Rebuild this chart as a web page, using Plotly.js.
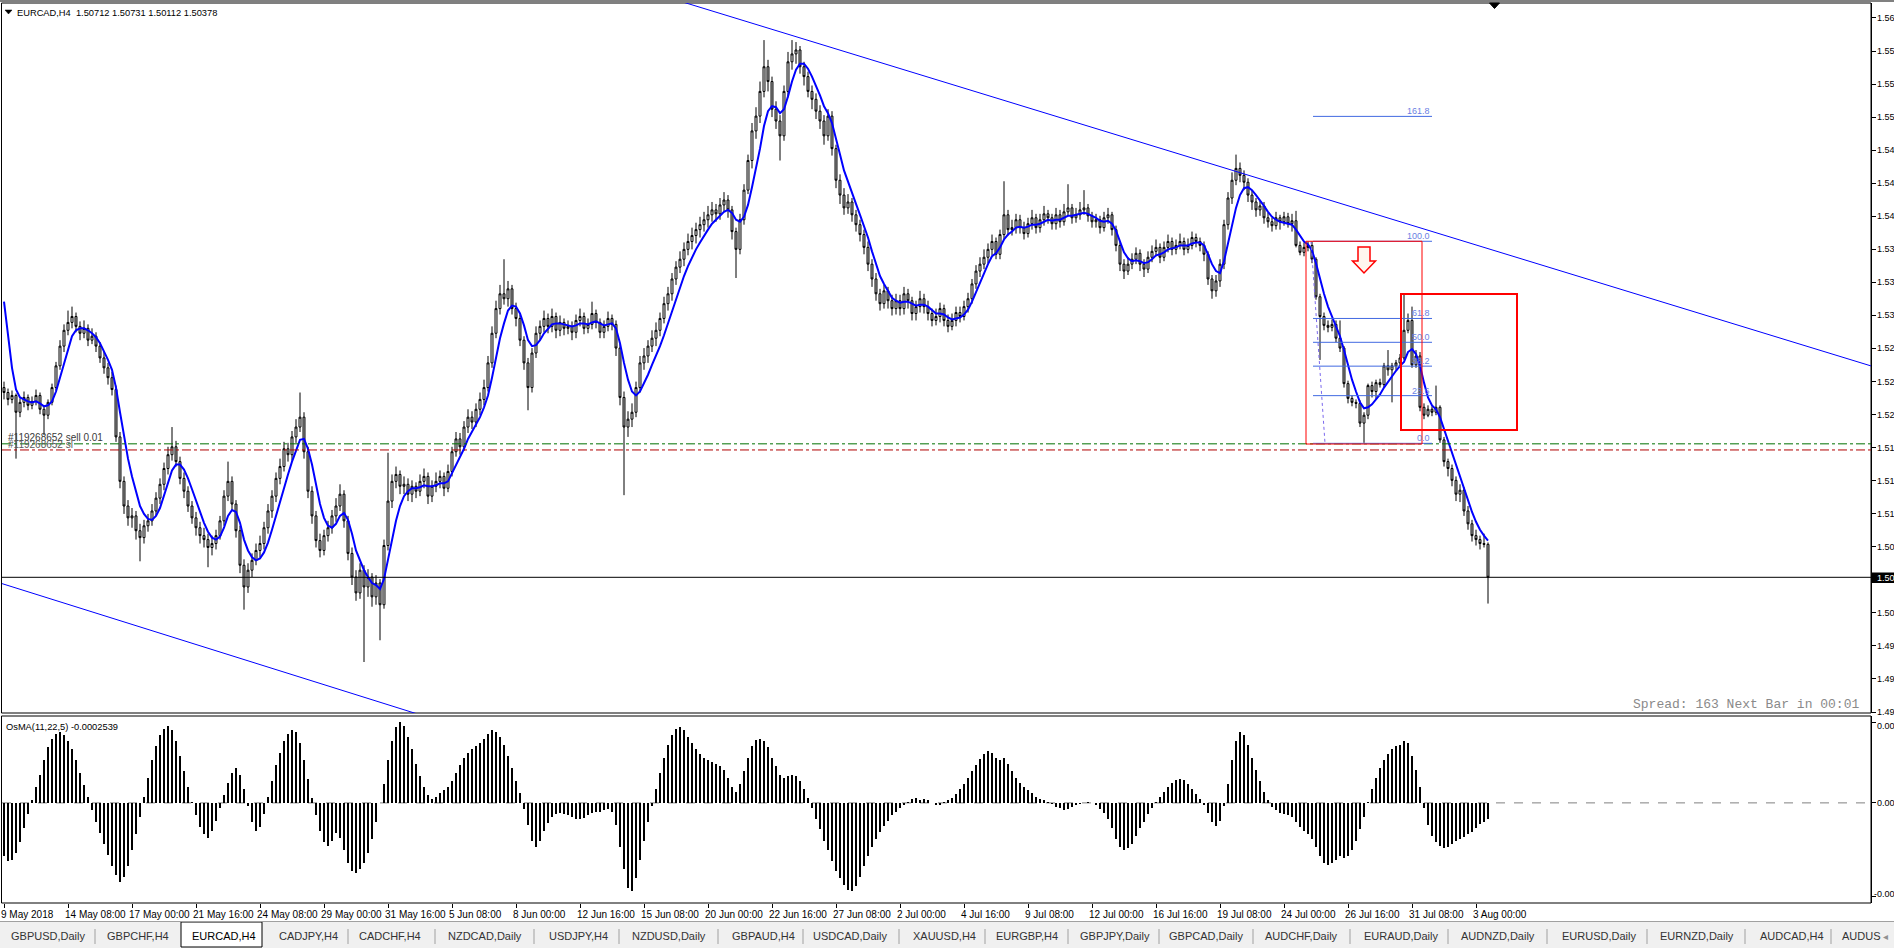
<!DOCTYPE html>
<html><head><meta charset="utf-8">
<script src="https://cdn.plot.ly/plotly-3.0.1.min.js"></script>
<style>html,body{margin:0;padding:0;background:#fff;overflow:hidden}#chart{width:1894px;height:948px}</style>
</head><body><div id="chart"></div>
<script>
// ================= data =================
const symbolTitle = "EURCAD,H4  1.50712 1.50731 1.50112 1.50378";
const osmaTitle = "OsMA(11,22,5) -0.0002539";
const closeP = [
1.5225,1.5218,1.5222,1.5205,1.5215,1.5220,1.5212,1.5216,1.5222,1.5208,
1.5202,1.5215,1.5230,1.5252,1.5272,1.5288,1.5296,1.5302,1.5292,1.5285,
1.5290,1.5278,1.5282,1.5272,1.5260,1.5250,1.5240,1.5228,1.5180,1.5135,
1.5110,1.5098,1.5100,1.5085,1.5078,1.5090,1.5095,1.5105,1.5118,1.5132,
1.5148,1.5162,1.5170,1.5155,1.5138,1.5125,1.5110,1.5098,1.5088,1.5080,
1.5076,1.5068,1.5072,1.5080,1.5095,1.5120,1.5135,1.5112,1.5085,1.5050,
1.5028,1.5045,1.5055,1.5065,1.5072,1.5088,1.5105,1.5120,1.5138,1.5150,
1.5168,1.5162,1.5180,1.5190,1.5200,1.5165,1.5125,1.5100,1.5075,1.5065,
1.5080,1.5088,1.5100,1.5110,1.5122,1.5095,1.5062,1.5038,1.5022,1.5045,
1.5028,1.5038,1.5018,1.5032,1.5010,1.5070,1.5115,1.5135,1.5142,1.5130,
1.5132,1.5122,1.5130,1.5125,1.5135,1.5140,1.5120,1.5130,1.5135,1.5140,
1.5128,1.5145,1.5165,1.5178,1.5170,1.5190,1.5200,1.5195,1.5208,1.5218,
1.5230,1.5255,1.5285,1.5310,1.5325,1.5320,1.5330,1.5310,1.5300,1.5278,
1.5255,1.5230,1.5265,1.5285,1.5292,1.5300,1.5292,1.5302,1.5288,1.5296,
1.5290,1.5292,1.5286,1.5298,1.5302,1.5290,1.5294,1.5305,1.5296,1.5286,
1.5292,1.5300,1.5294,1.5270,1.5220,1.5190,1.5198,1.5205,1.5230,1.5255,
1.5262,1.5272,1.5280,1.5288,1.5300,1.5315,1.5325,1.5340,1.5352,1.5360,
1.5370,1.5378,1.5384,1.5390,1.5395,1.5400,1.5405,1.5410,1.5406,1.5415,
1.5420,1.5410,1.5388,1.5370,1.5400,1.5430,1.5460,1.5490,1.5505,1.5530,
1.5555,1.5540,1.5512,1.5500,1.5485,1.5530,1.5560,1.5568,1.5572,1.5555,
1.5545,1.5530,1.5522,1.5510,1.5500,1.5485,1.5505,1.5472,1.5440,1.5425,
1.5412,1.5418,1.5405,1.5395,1.5385,1.5372,1.5355,1.5340,1.5325,1.5315,
1.5328,1.5318,1.5310,1.5318,1.5310,1.5325,1.5318,1.5305,1.5312,1.5320,
1.5312,1.5305,1.5298,1.5302,1.5310,1.5298,1.5292,1.5298,1.5306,1.5302,
1.5312,1.5320,1.5335,1.5348,1.5355,1.5362,1.5370,1.5378,1.5365,1.5385,
1.5405,1.5390,1.5392,1.5400,1.5392,1.5386,1.5396,1.5402,1.5392,1.5400,
1.5406,1.5402,1.5396,1.5405,1.5398,1.5408,1.5412,1.5402,1.5405,1.5410,
1.5412,1.5404,1.5398,1.5400,1.5392,1.5402,1.5405,1.5390,1.5374,1.5355,
1.5348,1.5355,1.5360,1.5366,1.5355,1.5350,1.5362,1.5368,1.5372,1.5362,
1.5372,1.5378,1.5370,1.5374,1.5378,1.5370,1.5374,1.5382,1.5378,1.5374,
1.5365,1.5340,1.5328,1.5338,1.5355,1.5395,1.5422,1.5440,1.5452,1.5445,
1.5438,1.5425,1.5418,1.5410,1.5414,1.5402,1.5398,1.5394,1.5402,1.5398,
1.5403,1.5396,1.5399,1.5374,1.5367,1.5372,1.5374,1.5360,1.5322,1.5302,
1.5293,1.5291,1.5294,1.5280,1.5270,1.5234,1.5219,1.5215,1.5214,1.5194,
1.5202,1.5232,1.5226,1.5235,1.5233,1.5252,1.5248,1.5252,1.5255,1.5260,
1.5288,1.5298,1.5253,1.5262,1.5210,1.5202,1.5208,1.5205,1.5210,1.5177,
1.5155,1.5148,1.5136,1.5122,1.5126,1.5105,1.5092,1.5080,1.5076,1.5072,
1.50712,1.50378];
const openP = [
1.5230,1.5225,1.5218,1.5222,1.5205,1.5215,1.5220,1.5212,1.5216,1.5222,
1.5208,1.5202,1.5215,1.5230,1.5252,1.5272,1.5288,1.5296,1.5302,1.5292,
1.5285,1.5290,1.5278,1.5282,1.5272,1.5260,1.5250,1.5240,1.5228,1.5180,
1.5135,1.5110,1.5098,1.5100,1.5085,1.5078,1.5090,1.5095,1.5105,1.5118,
1.5132,1.5148,1.5162,1.5170,1.5155,1.5138,1.5125,1.5110,1.5098,1.5088,
1.5080,1.5076,1.5068,1.5072,1.5080,1.5095,1.5120,1.5135,1.5112,1.5085,
1.5050,1.5028,1.5045,1.5055,1.5065,1.5072,1.5088,1.5105,1.5120,1.5138,
1.5150,1.5168,1.5162,1.5180,1.5190,1.5200,1.5165,1.5125,1.5100,1.5075,
1.5065,1.5080,1.5088,1.5100,1.5110,1.5122,1.5095,1.5062,1.5038,1.5022,
1.5045,1.5028,1.5038,1.5018,1.5032,1.5010,1.5070,1.5115,1.5135,1.5142,
1.5130,1.5132,1.5122,1.5130,1.5125,1.5135,1.5140,1.5120,1.5130,1.5135,
1.5140,1.5128,1.5145,1.5165,1.5178,1.5170,1.5190,1.5200,1.5195,1.5208,
1.5218,1.5230,1.5255,1.5285,1.5310,1.5325,1.5320,1.5330,1.5310,1.5300,
1.5278,1.5255,1.5230,1.5265,1.5285,1.5292,1.5300,1.5292,1.5302,1.5288,
1.5296,1.5290,1.5292,1.5286,1.5298,1.5302,1.5290,1.5294,1.5305,1.5296,
1.5286,1.5292,1.5300,1.5294,1.5270,1.5220,1.5190,1.5198,1.5205,1.5230,
1.5255,1.5262,1.5272,1.5280,1.5288,1.5300,1.5315,1.5325,1.5340,1.5352,
1.5360,1.5370,1.5378,1.5384,1.5390,1.5395,1.5400,1.5405,1.5410,1.5406,
1.5415,1.5420,1.5410,1.5388,1.5370,1.5400,1.5430,1.5460,1.5490,1.5505,
1.5530,1.5555,1.5540,1.5512,1.5500,1.5485,1.5530,1.5560,1.5568,1.5572,
1.5555,1.5545,1.5530,1.5522,1.5510,1.5500,1.5485,1.5505,1.5472,1.5440,
1.5425,1.5412,1.5418,1.5405,1.5395,1.5385,1.5372,1.5355,1.5340,1.5325,
1.5315,1.5328,1.5318,1.5310,1.5318,1.5310,1.5325,1.5318,1.5305,1.5312,
1.5320,1.5312,1.5305,1.5298,1.5302,1.5310,1.5298,1.5292,1.5298,1.5306,
1.5302,1.5312,1.5320,1.5335,1.5348,1.5355,1.5362,1.5370,1.5378,1.5365,
1.5385,1.5405,1.5390,1.5392,1.5400,1.5392,1.5386,1.5396,1.5402,1.5392,
1.5400,1.5406,1.5402,1.5396,1.5405,1.5398,1.5408,1.5412,1.5402,1.5405,
1.5410,1.5412,1.5404,1.5398,1.5400,1.5392,1.5402,1.5405,1.5390,1.5374,
1.5355,1.5348,1.5355,1.5360,1.5366,1.5355,1.5350,1.5362,1.5368,1.5372,
1.5362,1.5372,1.5378,1.5370,1.5374,1.5378,1.5370,1.5374,1.5382,1.5378,
1.5374,1.5365,1.5340,1.5328,1.5338,1.5355,1.5395,1.5422,1.5440,1.5452,
1.5445,1.5438,1.5425,1.5418,1.5410,1.5414,1.5402,1.5398,1.5394,1.5402,
1.5398,1.5403,1.5396,1.5399,1.5374,1.5367,1.5372,1.5374,1.5360,1.5322,
1.5302,1.5293,1.5291,1.5294,1.5280,1.5270,1.5234,1.5219,1.5215,1.5214,
1.5194,1.5202,1.5232,1.5226,1.5235,1.5233,1.5252,1.5248,1.5252,1.5255,
1.5260,1.5288,1.5298,1.5253,1.5262,1.5210,1.5202,1.5208,1.5205,1.5210,
1.5177,1.5155,1.5148,1.5136,1.5122,1.5126,1.5105,1.5092,1.5080,1.5076,
1.5072,1.50712];
const highP = [
1.5236,1.5229,1.5227,1.5224,1.5219,1.5226,1.5223,1.5221,1.5228,1.5225,
1.5212,1.5218,1.5234,1.5256,1.5278,1.5294,1.5308,1.5312,1.5306,1.5297,
1.5298,1.5294,1.5290,1.5286,1.5276,1.5266,1.5255,1.5246,1.5232,1.5185,
1.5140,1.5116,1.5108,1.5105,1.5092,1.5096,1.5102,1.5112,1.5124,1.5138,
1.5154,1.5170,1.5190,1.5176,1.5160,1.5144,1.5130,1.5115,1.5104,1.5094,
1.5088,1.5082,1.5080,1.5086,1.5100,1.5126,1.5155,1.5140,1.5116,1.5090,
1.5056,1.5052,1.5062,1.5072,1.5080,1.5094,1.5112,1.5126,1.5144,1.5158,
1.5175,1.5174,1.5186,1.5198,1.5225,1.5205,1.5170,1.5130,1.5105,1.5082,
1.5086,1.5095,1.5106,1.5118,1.5132,1.5126,1.5100,1.5068,1.5045,1.5052,
1.5050,1.5046,1.5042,1.5040,1.5036,1.5076,1.5164,1.5142,1.5150,1.5146,
1.5140,1.5138,1.5136,1.5134,1.5142,1.5148,1.5144,1.5136,1.5144,1.5146,
1.5144,1.5152,1.5170,1.5185,1.5184,1.5196,1.5208,1.5206,1.5214,1.5225,
1.5238,1.5262,1.5292,1.5318,1.5334,1.5360,1.5338,1.5334,1.5316,1.5304,
1.5282,1.5260,1.5270,1.5292,1.5298,1.5308,1.5305,1.5310,1.5306,1.5303,
1.5300,1.5298,1.5297,1.5304,1.5310,1.5306,1.5300,1.5317,1.5309,1.5300,
1.5298,1.5307,1.5304,1.5298,1.5274,1.5226,1.5206,1.5214,1.5236,1.5262,
1.5270,1.5278,1.5288,1.5296,1.5306,1.5322,1.5332,1.5346,1.5358,1.5368,
1.5377,1.5386,1.5392,1.5397,1.5403,1.5408,1.5414,1.5418,1.5416,1.5422,
1.5428,1.5425,1.5414,1.5392,1.5406,1.5436,1.5466,1.5498,1.5514,1.5540,
1.5582,1.5562,1.5545,1.5520,1.5506,1.5536,1.5570,1.5582,1.5580,1.5576,
1.5560,1.5550,1.5536,1.5528,1.5516,1.5506,1.5512,1.5510,1.5476,1.5446,
1.5432,1.5426,1.5422,1.5410,1.5400,1.5390,1.5378,1.5360,1.5346,1.5330,
1.5334,1.5332,1.5324,1.5325,1.5324,1.5332,1.5330,1.5322,1.5318,1.5328,
1.5325,1.5318,1.5310,1.5310,1.5316,1.5314,1.5304,1.5305,1.5312,1.5312,
1.5318,1.5326,1.5340,1.5354,1.5362,1.5370,1.5376,1.5385,1.5382,1.5390,
1.5439,1.5410,1.5400,1.5406,1.5405,1.5398,1.5402,1.5410,1.5406,1.5406,
1.5414,1.5410,1.5406,1.5412,1.5410,1.5416,1.5436,1.5416,1.5412,1.5418,
1.5430,1.5416,1.5408,1.5406,1.5404,1.5408,1.5412,1.5408,1.5394,1.5378,
1.5360,1.5362,1.5366,1.5372,1.5370,1.5360,1.5368,1.5374,1.5380,1.5376,
1.5378,1.5385,1.5382,1.5380,1.5386,1.5382,1.5381,1.5388,1.5386,1.5382,
1.5378,1.5368,1.5344,1.5344,1.5360,1.5400,1.5428,1.5448,1.5466,1.5458,
1.5450,1.5442,1.5430,1.5422,1.5420,1.5418,1.5407,1.5402,1.5408,1.5405,
1.5408,1.5407,1.5406,1.5409,1.5378,1.5377,1.5378,1.5378,1.5362,1.5325,
1.5306,1.5298,1.5299,1.5298,1.5298,1.5272,1.5237,1.5222,1.5218,1.5217,
1.5205,1.5234,1.5236,1.5238,1.5239,1.5255,1.5268,1.5255,1.5258,1.5264,
1.5324,1.5305,1.5312,1.5268,1.5266,1.5214,1.5212,1.5211,1.5232,1.5212,
1.5180,1.5158,1.5152,1.5140,1.5132,1.5129,1.5110,1.5096,1.5086,1.5080,
1.5082,1.50731];
const lowP = [
1.5218,1.5212,1.5214,1.5158,1.5200,1.5210,1.5207,1.5208,1.5212,1.5203,
1.5182,1.5198,1.5212,1.5227,1.5248,1.5266,1.5283,1.5290,1.5286,1.5278,
1.5280,1.5272,1.5274,1.5266,1.5255,1.5244,1.5233,1.5222,1.5175,1.5128,
1.5102,1.5090,1.5088,1.5076,1.5054,1.5072,1.5084,1.5090,1.5100,1.5112,
1.5126,1.5142,1.5156,1.5150,1.5132,1.5118,1.5104,1.5092,1.5080,1.5072,
1.5068,1.5048,1.5060,1.5066,1.5076,1.5090,1.5115,1.5106,1.5078,1.5042,
1.5005,1.5022,1.5038,1.5050,1.5058,1.5066,1.5082,1.5098,1.5114,1.5132,
1.5145,1.5155,1.5156,1.5174,1.5185,1.5158,1.5118,1.5092,1.5068,1.5058,
1.5060,1.5074,1.5082,1.5094,1.5105,1.5088,1.5055,1.5030,1.5014,1.5016,
1.4952,1.5018,1.5008,1.5010,1.4974,1.5006,1.5065,1.5108,1.5128,1.5122,
1.5122,1.5115,1.5114,1.5118,1.5120,1.5128,1.5112,1.5114,1.5124,1.5128,
1.5120,1.5124,1.5140,1.5160,1.5162,1.5166,1.5184,1.5188,1.5190,1.5202,
1.5212,1.5226,1.5250,1.5280,1.5304,1.5314,1.5312,1.5304,1.5292,1.5272,
1.5248,1.5207,1.5225,1.5260,1.5278,1.5286,1.5285,1.5286,1.5280,1.5282,
1.5283,1.5284,1.5278,1.5280,1.5292,1.5284,1.5285,1.5289,1.5290,1.5280,
1.5280,1.5287,1.5288,1.5262,1.5212,1.5121,1.5180,1.5190,1.5200,1.5225,
1.5248,1.5255,1.5266,1.5272,1.5282,1.5295,1.5308,1.5318,1.5334,1.5346,
1.5353,1.5364,1.5370,1.5376,1.5382,1.5388,1.5392,1.5398,1.5398,1.5400,
1.5408,1.5402,1.5380,1.5341,1.5365,1.5395,1.5426,1.5452,1.5482,1.5498,
1.5524,1.5530,1.5504,1.5492,1.5460,1.5480,1.5524,1.5552,1.5558,1.5548,
1.5536,1.5524,1.5512,1.5502,1.5492,1.5476,1.5480,1.5465,1.5432,1.5416,
1.5405,1.5406,1.5398,1.5388,1.5378,1.5365,1.5348,1.5332,1.5318,1.5308,
1.5310,1.5310,1.5303,1.5304,1.5303,1.5304,1.5310,1.5298,1.5298,1.5306,
1.5305,1.5298,1.5292,1.5293,1.5296,1.5292,1.5286,1.5288,1.5292,1.5296,
1.5298,1.5306,1.5315,1.5330,1.5342,1.5350,1.5356,1.5364,1.5360,1.5360,
1.5380,1.5384,1.5384,1.5386,1.5386,1.5380,1.5382,1.5390,1.5386,1.5387,
1.5394,1.5396,1.5390,1.5390,1.5392,1.5394,1.5404,1.5396,1.5397,1.5400,
1.5405,1.5398,1.5392,1.5392,1.5386,1.5388,1.5396,1.5384,1.5368,1.5348,
1.5340,1.5344,1.5350,1.5355,1.5348,1.5342,1.5346,1.5357,1.5363,1.5356,
1.5358,1.5367,1.5364,1.5365,1.5370,1.5364,1.5366,1.5370,1.5372,1.5368,
1.5358,1.5334,1.5320,1.5322,1.5332,1.5350,1.5390,1.5416,1.5435,1.5438,
1.5430,1.5418,1.5410,1.5403,1.5404,1.5396,1.5392,1.5388,1.5390,1.5390,
1.5394,1.5392,1.5388,1.5372,1.5364,1.5363,1.5368,1.5356,1.5319,1.5258,
1.5288,1.5286,1.5287,1.5276,1.5266,1.5230,1.5214,1.5211,1.5209,1.5190,
1.5174,1.5198,1.5220,1.5218,1.5230,1.5230,1.5242,1.5215,1.5248,1.5251,
1.5258,1.5285,1.5250,1.5250,1.5206,1.5198,1.5200,1.5201,1.5202,1.5174,
1.5150,1.5140,1.5130,1.5115,1.5114,1.5100,1.5086,1.5074,1.5070,1.5066,
1.5068,1.50112];
const maLine = [
1.5317,1.5285,1.5250,1.5228,1.5220,1.5218,1.5216,1.5215,1.5216,1.5214,
1.5211,1.5212,1.5216,1.5226,1.5240,1.5256,1.5270,1.5282,1.5288,1.5290,
1.5290,1.5288,1.5285,1.5281,1.5275,1.5267,1.5258,1.5248,1.5230,1.5205,
1.5180,1.5158,1.5140,1.5124,1.5110,1.5102,1.5097,1.5096,1.5100,1.5108,
1.5120,1.5134,1.5146,1.5152,1.5152,1.5147,1.5138,1.5127,1.5115,1.5103,
1.5093,1.5084,1.5078,1.5076,1.5079,1.5088,1.5100,1.5106,1.5104,1.5093,
1.5076,1.5065,1.5058,1.5055,1.5057,1.5063,1.5073,1.5086,1.5100,1.5115,
1.5130,1.5142,1.5155,1.5166,1.5177,1.5178,1.5168,1.5152,1.5132,1.5112,
1.5098,1.5090,1.5088,1.5092,1.5100,1.5103,1.5096,1.5082,1.5065,1.5055,
1.5045,1.5038,1.5032,1.5030,1.5026,1.5036,1.5055,1.5075,1.5095,1.5110,
1.5120,1.5125,1.5128,1.5128,1.5129,1.5131,1.5130,1.5130,1.5131,1.5133,
1.5133,1.5135,1.5143,1.5152,1.5159,1.5168,1.5178,1.5185,1.5192,1.5200,
1.5210,1.5222,1.5240,1.5260,1.5280,1.5295,1.5308,1.5313,1.5312,1.5305,
1.5293,1.5278,1.5272,1.5273,1.5278,1.5285,1.5290,1.5294,1.5295,1.5295,
1.5294,1.5293,1.5292,1.5293,1.5295,1.5295,1.5294,1.5296,1.5297,1.5295,
1.5293,1.5294,1.5295,1.5290,1.5275,1.5255,1.5238,1.5226,1.5222,1.5226,
1.5234,1.5243,1.5253,1.5262,1.5272,1.5283,1.5295,1.5307,1.5320,1.5332,
1.5343,1.5353,1.5362,1.5370,1.5377,1.5384,1.5390,1.5396,1.5400,1.5404,
1.5408,1.5410,1.5407,1.5400,1.5398,1.5403,1.5415,1.5433,1.5452,1.5472,
1.5495,1.5510,1.5515,1.5514,1.5508,1.5512,1.5525,1.5540,1.5552,1.5558,
1.5558,1.5553,1.5545,1.5536,1.5526,1.5515,1.5508,1.5498,1.5483,1.5466,
1.5450,1.5438,1.5427,1.5416,1.5405,1.5394,1.5382,1.5368,1.5355,1.5343,
1.5335,1.5328,1.5321,1.5318,1.5316,1.5317,1.5317,1.5315,1.5313,1.5314,
1.5314,1.5312,1.5308,1.5305,1.5305,1.5304,1.5301,1.5299,1.5300,1.5301,
1.5304,1.5309,1.5317,1.5327,1.5337,1.5346,1.5355,1.5363,1.5366,1.5372,
1.5380,1.5385,1.5388,1.5392,1.5393,1.5392,1.5393,1.5395,1.5395,1.5396,
1.5398,1.5400,1.5399,1.5400,1.5400,1.5402,1.5404,1.5404,1.5405,1.5406,
1.5407,1.5406,1.5404,1.5402,1.5399,1.5398,1.5399,1.5396,1.5389,1.5378,
1.5367,1.5361,1.5358,1.5359,1.5358,1.5356,1.5357,1.5360,1.5364,1.5365,
1.5367,1.5370,1.5371,1.5372,1.5374,1.5374,1.5374,1.5376,1.5377,1.5377,
1.5374,1.5365,1.5355,1.5348,1.5346,1.5358,1.5375,1.5395,1.5412,1.5425,
1.5432,1.5433,1.5430,1.5425,1.5420,1.5414,1.5408,1.5403,1.5400,1.5398,
1.5397,1.5396,1.5395,1.5390,1.5384,1.5378,1.5375,1.5369,1.5356,1.5340,
1.5325,1.5312,1.5302,1.5292,1.5282,1.5268,1.5252,1.5238,1.5226,1.5215,
1.5209,1.5210,1.5213,1.5218,1.5223,1.5230,1.5236,1.5242,1.5247,1.5252,
1.5256,1.5266,1.5269,1.5264,1.5252,1.5235,1.5220,1.5212,1.5208,1.5200,
1.5188,1.5175,1.5163,1.5152,1.5140,1.5128,1.5116,1.5104,1.5094,1.5086,
1.5080,1.5075];
const osmaVal = [
-0.00085,-0.00092,-0.00090,-0.00080,-0.00062,-0.00040,-0.00018,
0.00005,0.00025,0.00045,0.00068,0.00088,0.00102,0.00110,0.00112,0.00108,0.00098,0.00085,0.00068,0.00048,0.00028,0.00010,
-0.00012,-0.00030,-0.00048,-0.00065,-0.00082,-0.00100,-0.00115,-0.00125,-0.00118,-0.00100,-0.00075,
-0.00050,-0.00022,0.00010,0.00040,0.00068,0.00090,0.00108,0.00118,0.00122,0.00115,0.00098,0.00075,0.00050,0.00025,
0.00002,-0.00020,-0.00038,-0.00050,-0.00055,-0.00045,-0.00028,
-0.00008,0.00012,0.00032,0.00048,0.00055,0.00045,0.00022,-0.00005,
-0.00030,-0.00045,-0.00038,-0.00018,
0.00010,0.00035,0.00060,0.00080,0.00098,0.00110,0.00116,0.00112,0.00095,0.00068,0.00038,0.00008,
-0.00020,-0.00045,-0.00062,-0.00068,-0.00060,-0.00048,-0.00055,-0.00075,-0.00095,-0.00108,-0.00112,-0.00105,
-0.00095,-0.00080,-0.00058,-0.00030,0.00000,0.00030,
0.00068,0.00098,0.00120,0.00128,0.00122,0.00105,0.00085,0.00062,
0.00042,0.00025,0.00012,0.00006,0.00010,0.00016,0.00020,0.00025,0.00035,0.00048,
0.00060,0.00072,0.00080,0.00086,0.00090,0.00095,0.00102,0.00110,0.00115,0.00112,0.00105,0.00092,0.00075,0.00055,0.00035,0.00015,
-0.00010,-0.00035,-0.00060,-0.00070,-0.00060,-0.00045,-0.00032,-0.00022,-0.00018,-0.00016,-0.00018,-0.00020,
-0.00022,-0.00025,-0.00026,-0.00024,-0.00020,-0.00016,-0.00015,-0.00014,-0.00012,-0.00010,-0.00014,-0.00035,
-0.00070,-0.00105,-0.00135,-0.00140,-0.00120,-0.00090,-0.00060,-0.00030,-0.00005,
0.00022,0.00048,0.00072,0.00092,0.00108,0.00118,0.00120,0.00115,0.00105,0.00095,0.00085,0.00078,0.00072,0.00068,0.00065,0.00062,0.00058,0.00052,
0.00040,0.00025,0.00018,0.00030,0.00050,0.00072,0.00090,0.00100,0.00102,0.00098,0.00088,0.00072,0.00058,0.00045,0.00040,
0.00042,0.00045,0.00042,0.00035,0.00022,0.00008,-0.00008,-0.00025,-0.00042,-0.00060,-0.00075,-0.00092,-0.00108,-0.00120,-0.00130,
-0.00138,-0.00140,-0.00132,-0.00118,-0.00100,-0.00085,-0.00070,-0.00058,-0.00046,-0.00036,-0.00028,-0.00020,-0.00014,-0.00008,
-0.00004,0.00002,0.00006,0.00008,0.00005,0.00006,0.00004,0.00000,-0.00004,-0.00003,0.00002,0.00004,0.00008,0.00014,0.00022,0.00030,0.00040,
0.00050,0.00060,0.00070,0.00078,0.00082,0.00080,0.00072,0.00068,0.00072,0.00062,0.00050,0.00040,0.00032,0.00025,0.00020,
0.00016,0.00010,0.00006,0.00004,0.00002,-0.00002,-0.00006,-0.00008,-0.00012,-0.00010,-0.00006,-0.00003,-0.00002,0.00000,0.00002,
0.00000,-0.00004,-0.00010,-0.00016,-0.00025,-0.00040,-0.00058,-0.00070,-0.00075,-0.00072,-0.00065,-0.00052,-0.00040,-0.00030,-0.00018,
-0.00008,0.00002,0.00010,0.00018,0.00026,0.00032,0.00036,0.00038,0.00036,0.00030,0.00022,0.00014,0.00006,-0.00004,-0.00016,
-0.00030,-0.00036,-0.00028,-0.00005,0.00030,0.00068,0.00098,0.00112,0.00108,0.00092,0.00072,0.00052,
0.00035,0.00018,0.00004,-0.00006,-0.00012,-0.00016,-0.00018,-0.00020,-0.00022,-0.00030,-0.00038,-0.00045,
-0.00050,-0.00058,-0.00070,-0.00085,-0.00095,-0.00098,-0.00095,-0.00090,-0.00085,-0.00088,-0.00085,-0.00075,-0.00060,-0.00042,-0.00022,
0.00002,0.00022,0.00040,0.00055,0.00068,0.00078,0.00085,0.00090,0.00092,0.00098,0.00095,0.00075,0.00052,0.00025,
-0.00008,-0.00035,-0.00052,-0.00062,-0.00068,-0.00072,-0.00070,-0.00066,-0.00060,-0.00058,-0.00054,-0.00050,-0.00046,-0.00040,-0.00034,-0.00030,-0.0002539];
const bidPrice = 1.50378;
const xLabelText = ["9 May 2018","14 May 08:00","17 May 00:00","21 May 16:00","24 May 08:00","29 May 00:00","31 May 16:00","5 Jun 08:00","8 Jun 00:00","12 Jun 16:00","15 Jun 08:00","20 Jun 00:00","22 Jun 16:00","27 Jun 08:00","2 Jul 00:00","4 Jul 16:00","9 Jul 08:00","12 Jul 00:00","16 Jul 16:00","19 Jul 08:00","24 Jul 00:00","26 Jul 16:00","31 Jul 08:00","3 Aug 00:00"];
const xLabelBar = [0,16,32,48,64,80,96,112,128,144,160,176,192,208,224,240,256,272,288,304,320,336,352,368];
const priceTickVals = [1.49013,1.49348,1.49683,1.50017,1.50352,1.50687,1.51022,1.51357,1.51691,1.52026,1.52361,1.52696,1.53031,1.53365,1.53700,1.54035,1.54370,1.54705,1.55039,1.55374,1.55709,1.56044];
const priceTickText = ["1.49","1.49","1.49","1.50","1.50","1.50","1.51","1.51","1.51","1.52","1.52","1.52","1.53","1.53","1.53","1.54","1.54","1.54","1.55","1.55","1.55","1.56"];
const osmaTickVals = [0.00127, 0, -0.00149];
const osmaTickText = ["0.00","0.00","-0.00"];
const fibLevels = [0, 23.6, 38.2, 50.0, 61.8, 100.0, 161.8];
const fibLabels = ["0.0","23.6","38.2","50.0","61.8","100.0","161.8"];
const fibLow = 1.51735, fibHigh = 1.53782;
const sellPrice = 1.5173, slPrice = 1.51668;
const orderTexts = ["#119268652 sell 0.01", "#119268652 sl"];
const spreadText = "Spread: 163 Next Bar in 00:01";
const tabNames = ["GBPUSD,Daily","GBPCHF,H4","EURCAD,H4","CADJPY,H4","CADCHF,H4","NZDCAD,Daily","USDJPY,H4","NZDUSD,Daily","GBPAUD,H4","USDCAD,Daily","XAUUSD,H4","EURGBP,H4","GBPJPY,Daily","GBPCAD,Daily","AUDCHF,Daily","EURAUD,Daily","AUDNZD,Daily","EURUSD,Daily","EURNZD,Daily","AUDCAD,H4","AUDUS"];
const activeTab = "EURCAD,H4";

// ================= layout geometry =================
const W = 1894, H = 948;
const plotL = 2, plotR = 1871, mainTop = 3, mainBot = 713, oscTop = 716, oscBot = 903;
const barPx = 4;
const pxPerPrice = 1/0.0001013, bidY = 577.3;
const tabX = [10,106,191,278,358,447,548,631,731,812,912,995,1079,1168,1264,1363,1460,1561,1659,1759,1841];
const tabSep = [95,348,435,534,619,718,803,899,985,1068,1159,1253,1350,1448,1547,1647,1745,1831];
const activeBox = [181,262];
const trend1 = [[165,1.56264],[470,1.52479]];
const trend2 = [[-2,1.50333],[110,1.48909]];
const fibX = [327.25, 357];
const fibDiag = [[326.75,1.53782],[330.25,1.51735]];
const rectThin = [325.5, 354.5, 1.51728, 1.53782];
const rectThick = [349.25, 378.25, 1.51870, 1.53248];

const px = x => x / W;
const py = y => 1 - y / H;
const priceAt = y => bidPrice + (bidY - y) / pxPerPrice;
const yOfPrice = p => bidY - (p - bidPrice) * pxPerPrice;
const xr = [-0.5, -0.5 + (plotR - plotL) / barPx];
const font = 'Liberation Sans, Arial, sans-serif';
const barIdx = closeP.map((_, i) => i);
const oscRange = [-0.00159, 0.00138];
const yOfOsc = v => oscBot - (v - oscRange[0]) / (oscRange[1] - oscRange[0]) * (oscBot - oscTop);

const traces = [
  {type:'candlestick', x:barIdx, open:openP, high:highP, low:lowP, close:closeP, xaxis:'x', yaxis:'y',
   increasing:{line:{color:'#000',width:1}, fillcolor:'#ffffff'},
   decreasing:{line:{color:'#000',width:1}, fillcolor:'#c0c0c0'},
   whiskerwidth:0, hoverinfo:'skip'},
  {type:'scatter', mode:'lines', x:barIdx, y:maLine, xaxis:'x', yaxis:'y', line:{color:'#0000ff', width:2}, hoverinfo:'skip'},
  {type:'bar', x:osmaVal.map((_, i) => i), y:osmaVal, xaxis:'x2', yaxis:'y2', width:0.5,
   marker:{color:'#000', line:{width:0}}, hoverinfo:'skip'}
];

const shapes = [];
const ann = [];
function pline(x0,y0,x1,y1,color,width,dash){shapes.push({type:'line',xref:'paper',yref:'paper',x0:px(x0),y0:py(y0),x1:px(x1),y1:py(y1),line:{color:color,width:width||1,dash:dash||'solid'}});}
function prect(x0,y0,x1,y1,lc,fill,lw){shapes.push({type:'rect',xref:'paper',yref:'paper',x0:px(x0),y0:py(y0),x1:px(x1),y1:py(y1),line:{color:lc,width:lw===undefined?1:lw},fillcolor:fill||'rgba(0,0,0,0)',layer:'below'});}
function ppath(pts,lc,fill,lw){let d=pts.map((p,i)=>(i?'L':'M')+px(p[0])+','+py(p[1])).join(' ')+' Z';shapes.push({type:'path',xref:'paper',yref:'paper',path:d,line:{color:lc,width:lw||1},fillcolor:fill,layer:'above'});}
function ptext(x,y,t,opts){ann.push(Object.assign({xref:'paper',yref:'paper',x:px(x),y:py(y),text:t,showarrow:false,xanchor:'left',yanchor:'middle',borderpad:0,font:{family:font,size:11,color:'#000'}},opts||{}));}

// window frame
pline(0,1,W,1,'#808080',2);
prect(plotL-0.5, mainTop, plotR, mainBot, '#000');
prect(plotL-0.5, oscTop, plotR, oscBot, '#000');

function dline(p0,p1,color,width,dash){shapes.push({type:'line',xref:'x',yref:'y',x0:p0[0],y0:p0[1],x1:p1[0],y1:p1[1],line:{color:color,width:width||1,dash:dash||'solid'},layer:'above'});}
dline(trend1[0],trend1[1],'#0000ff',1);
dline(trend2[0],trend2[1],'#0000ff',1);
dline([xr[0],sellPrice],[xr[1],sellPrice],'#007000',1,'dashdot');
dline([xr[0],slPrice],[xr[1],slPrice],'#b00000',1,'dashdot');
dline([xr[0],bidPrice],[xr[1],bidPrice],'#000',1);
fibLevels.forEach((lv,i)=>{
  const p = fibLow + (fibHigh-fibLow)*lv/100;
  dline([fibX[0],p],[fibX[1],p],'#4169e1',1);
  ann.push({xref:'x',yref:'y',x:fibX[1],y:p,text:fibLabels[i],showarrow:false,xanchor:'right',yanchor:'bottom',yshift:-2,font:{family:font,size:9,color:'#6b7fe3'}});
});
dline(fibDiag[0],fibDiag[1],'#7b68ee',1,'dot');
shapes.push({type:'rect',xref:'x',yref:'y',x0:rectThin[0],x1:rectThin[1],y0:rectThin[2],y1:rectThin[3],line:{color:'#ff0000',width:1},fillcolor:'rgba(0,0,0,0)',layer:'above'});
shapes.push({type:'rect',xref:'x',yref:'y',x0:rectThick[0],x1:rectThick[1],y0:rectThick[2],y1:rectThick[3],line:{color:'#ff0000',width:2},fillcolor:'rgba(0,0,0,0)',layer:'above'});
ppath([[1358,247],[1370,247],[1370,261],[1375.5,261],[1364,273],[1352.5,261],[1358,261]],'#ff0000','#fff6ee',1.5);
ppath([[1489.5,3],[1499.5,3],[1494.5,8.5]],'#000','#000',1);
shapes.push({type:'line',xref:'paper',yref:'y2',x0:px(plotL),x1:px(plotR),y0:0,y1:0,line:{color:'#808080',width:1,dash:'dash'},layer:'below'});

// texts
ppath([[5,10],[12,10],[8.5,14]],'#000','#000',0.5);
ptext(16,12.5,symbolTitle,{font:{family:font,size:9.3,color:'#000'}});
ptext(5,727,osmaTitle,{font:{family:font,size:9.3,color:'#000'}});
ptext(7,437,orderTexts[0],{font:{family:font,size:10,color:'#3a3a3a'}});
ptext(7,444,orderTexts[1],{font:{family:font,size:10,color:'#5a5a5a'}});
ptext(1860,704,spreadText,{xanchor:'right',font:{family:'Liberation Mono, Courier New, monospace',size:13,color:'#8a8a8a'}});

// price scale labels
priceTickVals.forEach((v,i)=>ptext(1875.5, yOfPrice(v), priceTickText[i], {font:{family:font,size:9,color:'#000'}}));
osmaTickVals.forEach((v,i)=>ptext(osmaTickText[i][0]==='-'?1872.5:1875.5, yOfOsc(v)+(i===0?3:(i===2?-3:0)), osmaTickText[i], {font:{family:font,size:9,color:'#000'}}));
// bid label box
prect(1872,572.5,W+2,583,'#000','#000',0);
shapes[shapes.length-1].layer='above';
ptext(1875.5,577.8,'1.50',{font:{family:font,size:9,color:'#fff'}});

// time labels
xLabelText.forEach((t,i)=>{
  ann.push({xref:'x2',yref:'paper',x:xLabelBar[i],y:py(914),text:t,showarrow:false,xanchor:'left',yanchor:'middle',xshift:-4,borderpad:0,font:{family:font,size:10,color:'#000'}});
});

// tab bar
prect(0,921,W,948,'rgba(0,0,0,0)','#f0f0f0',0);
pline(0,921.5,W,921.5,'#a0a0a0',1);
prect(activeBox[0],922,activeBox[1],947,'#000','#ffffff',1);
tabSep.forEach(x=>pline(x,929,x,944,'#a0a0a0',1));
tabNames.forEach((t,i)=>ptext(tabX[i],936,t,{font:{family:font,size:11,color:t===activeTab?'#000':'#333'}}));
ptext(1882,936,'◂',{font:{family:font,size:10,color:'#909090'}});

const layout = {
  width:W, height:H, margin:{l:0,r:0,t:0,b:0}, paper_bgcolor:'#fff', plot_bgcolor:'#fff',
  showlegend:false, hovermode:false, font:{family:font,size:11,color:'#000'}, bargap:0,
  xaxis:{domain:[px(plotL),px(plotR)], range:xr, type:'linear', anchor:'y', showgrid:false, zeroline:false, showticklabels:false, ticks:'', showline:false, rangeslider:{visible:false}, fixedrange:true},
  yaxis:{domain:[py(mainBot),py(mainTop)], range:[priceAt(mainBot),priceAt(mainTop)], anchor:'x', side:'right', showline:true, linecolor:'#000', linewidth:1, ticks:'outside', ticklen:4, tickcolor:'#000', tickvals:priceTickVals, showticklabels:false, showgrid:false, zeroline:false, fixedrange:true},
  xaxis2:{domain:[px(plotL),px(plotR)], range:xr, type:'linear', anchor:'y2', showgrid:false, zeroline:false, showticklabels:false, ticks:'outside', ticklen:4, tickcolor:'#000', tickvals:xLabelBar, showline:false, fixedrange:true},
  yaxis2:{domain:[py(oscBot),py(oscTop)], range:oscRange, anchor:'x2', side:'right', showline:true, linecolor:'#000', linewidth:1, ticks:'outside', ticklen:4, tickcolor:'#000', tickvals:osmaTickVals, showticklabels:false, showgrid:false, zeroline:false, fixedrange:true},
  shapes:shapes, annotations:ann
};
Plotly.newPlot('chart', traces, layout, {displayModeBar:false, staticPlot:true});
</script></body></html>
